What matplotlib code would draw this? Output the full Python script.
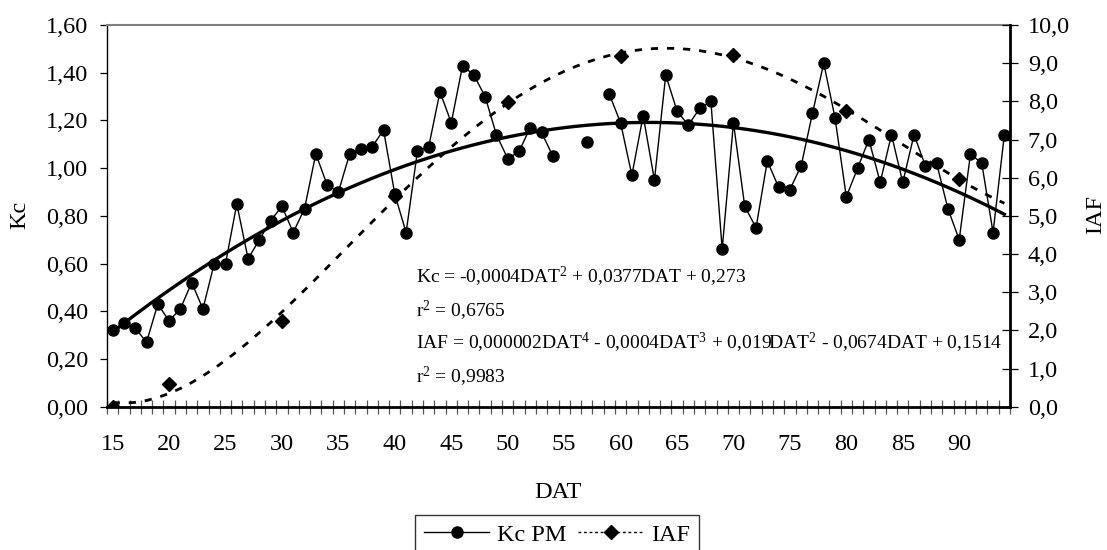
import numpy as np
import matplotlib
matplotlib.use("Agg")
import matplotlib.pyplot as plt
from matplotlib.ticker import FuncFormatter, FixedLocator

plt.rcParams['font.family'] = ['Liberation Serif', 'DejaVu Serif']
plt.rcParams['mathtext.fontset'] = 'custom'
plt.rcParams['mathtext.rm'] = 'Liberation Serif'
plt.rcParams['mathtext.it'] = 'Liberation Serif:italic'
plt.rcParams['mathtext.default'] = 'regular'

# ---------------- data ----------------
days = np.arange(15, 95)  # DAT categories 15..94
kc_pm = [0.32, 0.35, 0.33, 0.27, 0.43, 0.36, 0.41, 0.52, 0.41, 0.60,
         0.60, 0.85, 0.62, 0.70, 0.78, 0.84, 0.73, 0.83, 1.06, 0.93,
         0.90, 1.06, 1.08, 1.09, 1.16, 0.89, 0.73, 1.07, 1.09, 1.32,
         1.19, 1.43, 1.39, 1.30, 1.14, 1.04, 1.07, 1.17, 1.15, 1.05,
         np.nan, np.nan, 1.11, np.nan, 1.31, 1.19, 0.97, 1.22, 0.95, 1.39,
         1.24, 1.18, 1.25, 1.28, 0.66, 1.19, 0.84, 0.75, 1.03, 0.92,
         0.91, 1.01, 1.23, 1.44, 1.21, 0.88, 1.00, 1.12, 0.94, 1.14,
         0.94, 1.14, 1.01, 1.02, 0.83, 0.70, 1.06, 1.02, 0.73, 1.14]
iaf_days = [15, 20, 30, 40, 50, 60, 70, 80, 90]
iaf_vals = [0.0, 0.59, 2.25, 5.53, 7.99, 9.19, 9.21, 7.75, 5.96]
x_labels = [15, 20, 25, 30, 35, 40, 45, 50, 55, 60, 65, 70, 75, 80, 85, 90]
kc_eq = r"Kc = -0,0004DAT$^{2}$ + 0,0377DAT + 0,273"
kc_r2 = r"r$^{2}$ = 0,6765"
iaf_eq = r"IAF = 0,000002DAT$^{4}$ - 0,0004DAT$^{3}$ + 0,019DAT$^{2}$ - 0,0674DAT + 0,1514"
iaf_r2 = r"r$^{2}$ = 0,9983"

kc = np.array(kc_pm, dtype=float)
iaf = np.full(len(days), np.nan)
for d, v in zip(iaf_days, iaf_vals):
    iaf[d - days[0]] = v

# trendlines (Excel style: x = category index 1..n)
idx = np.arange(1, len(days) + 1)
m = ~np.isnan(kc)
p_kc = np.polyfit(idx[m], kc[m], 2)
mi = ~np.isnan(iaf)
p_iaf = np.polyfit(idx[mi], iaf[mi], 4)

# ---------------- figure ----------------
W, H = 1107, 550
fig = plt.figure(figsize=(W / 100, H / 100), dpi=100)
L, R, T, B = 107, 1010, 25, 406.7
ax = fig.add_axes([L / W, 1 - B / H, (R - L) / W, (B - T) / H])
ax2 = ax.twinx()

tick_fs = 17.5
lab_fs = 17.5

# Kc series + trend
h1, = ax.plot(days, kc, color='black', lw=1.0, marker='o', ms=8, zorder=3)
ax.plot(days, np.polyval(p_kc, idx), color='black', lw=2.4, zorder=2)

# IAF series + trend
h2, = ax2.plot(days, iaf, color='black', lw=1.0, ls=(0, (2, 2)), marker='D', ms=7.5, zorder=3)
ax2.plot(days, np.polyval(p_iaf, idx), color='black', lw=2.0, ls=(0, (2.6, 3.2)), zorder=2)

ax.set_xlim(14.5, 94.5)
ax.set_ylim(0, 1.6)
ax2.set_ylim(0, 10)

ax.xaxis.set_major_locator(FixedLocator(x_labels))
ax.xaxis.set_minor_locator(FixedLocator(np.arange(14.5, 95.0, 1.0)))
ax.tick_params(axis='x', which='major', length=0, pad=20, labelsize=tick_fs)
ax.tick_params(axis='x', which='minor', length=10, width=0.9, direction='inout', color='#555555')

ax.set_yticks(np.arange(0, 1.61, 0.2))
ax.yaxis.set_major_formatter(FuncFormatter(lambda v, p: f"{v:.2f}".replace('.', ',')))
ax.tick_params(axis='y', which='major', length=5, width=0.9, direction='out', pad=8.4, labelsize=tick_fs)

ax2.set_yticks(np.arange(0, 10.01, 1))
ax2.yaxis.set_major_formatter(FuncFormatter(lambda v, p: f"{v:.1f}".replace('.', ',')))
ax2.tick_params(axis='y', which='major', length=12, width=0.9, direction='inout', pad=6.8, labelsize=tick_fs)

# spines
ax.spines['left'].set_linewidth(1.0)
ax.spines['bottom'].set_linewidth(2.0)
ax.spines['top'].set_color('#808080')
ax.spines['top'].set_linewidth(1.5)
ax.spines['right'].set_visible(False)
for s in ['left', 'top', 'bottom']:
    ax2.spines[s].set_visible(False)
ax2.spines['right'].set_linewidth(2.0)

# labels
fig.text(20 / W, 1 - 215 / H, 'Kc', rotation=90, ha='center', va='center', fontsize=lab_fs)
fig.text(1096 / W, 1 - 215 / H, 'IAF', rotation=90, ha='center', va='center', fontsize=lab_fs)
fig.text(558 / W, 1 - 498 / H, 'DAT', ha='center', va='baseline', fontsize=lab_fs)

# equations
eq_fs = 14
x0 = (416 - L) / (R - L)
for txt, yb in [(kc_eq, 283.3), (kc_r2, 316.7), (iaf_eq, 349.3), (iaf_r2, 382.7)]:
    ax.text(x0, (B - yb) / (B - T), txt, transform=ax.transAxes, ha='left', va='baseline', fontsize=eq_fs)

# legend
leg = fig.legend([h1, h2], ['Kc PM', 'IAF'], loc='upper center', bbox_to_anchor=(557 / W, 1 - 515 / H),
                 ncol=2, frameon=True, fancybox=False, edgecolor='black', handlelength=2.7,
                 handletextpad=0.3, columnspacing=0.5, borderpad=0.35, fontsize=lab_fs,
                 borderaxespad=0)
leg.get_frame().set_linewidth(1.0)

fig.savefig('out.png', dpi=100)
